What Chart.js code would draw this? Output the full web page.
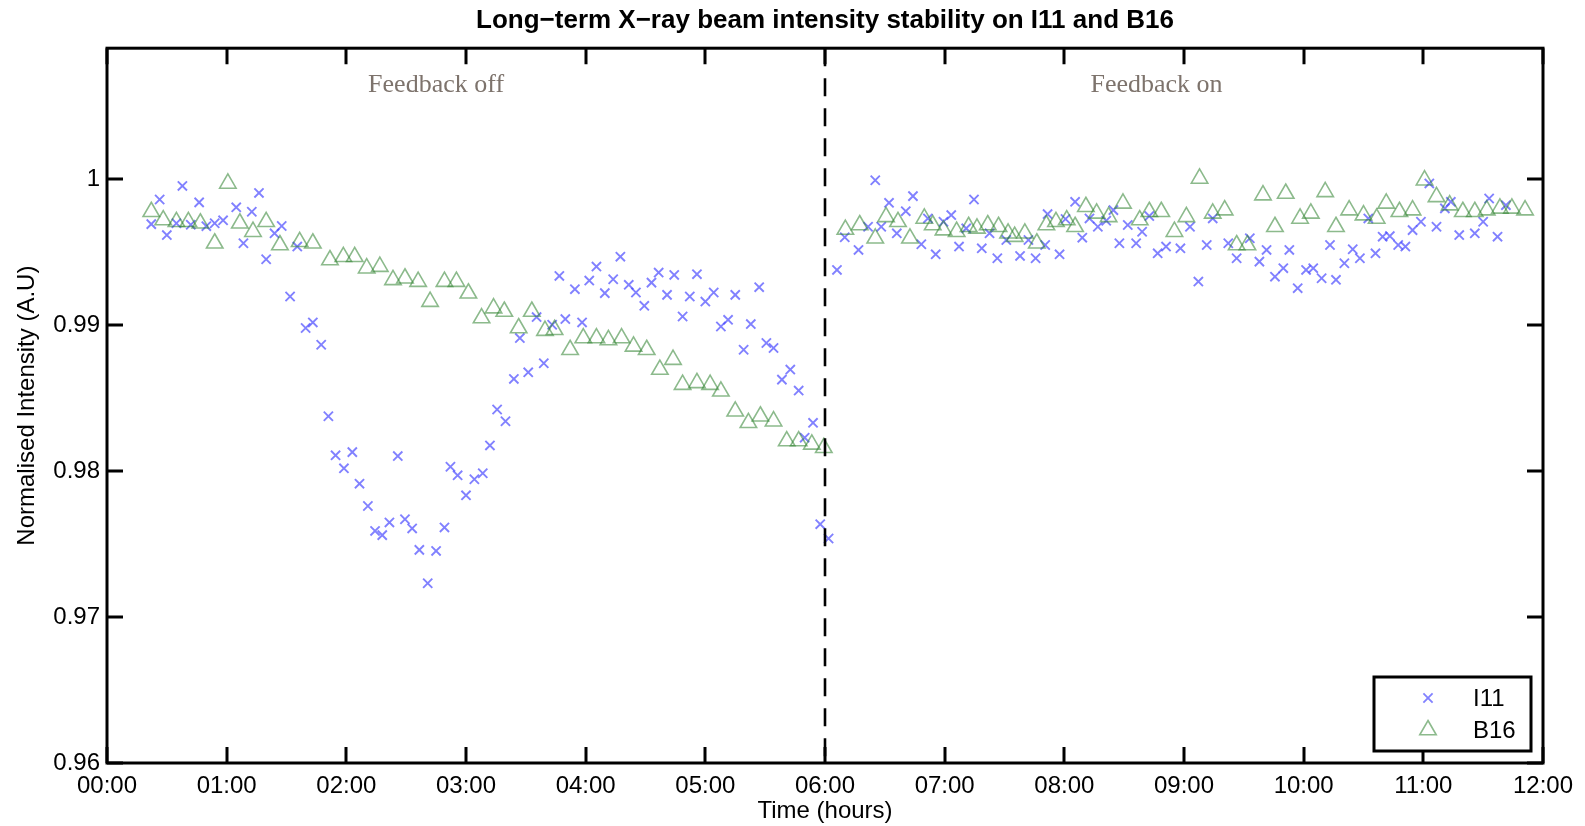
<!DOCTYPE html>
<html>
<head>
<meta charset="utf-8">
<script src="https://cdn.jsdelivr.net/npm/chart.js@4/dist/chart.umd.min.js"></script>
<style>
  html, body { margin: 0; padding: 0; background: #fff; }
  #wrap { width: 1585px; height: 826px; }
</style>
</head>
<body>
<div id="wrap"><canvas id="c" width="1585" height="826"></canvas></div>
<script>
// ---------------- data ----------------
const chartTitle = 'Long\u2212term X\u2212ray beam intensity stability on I11 and B16';
const xAxisTitle = 'Time (hours)';
const yAxisTitle = 'Normalised Intensity (A.U)';

const xTickValues = [0,1,2,3,4,5,6,7,8,9,10,11,12];
const xTickLabels = ['00:00','01:00','02:00','03:00','04:00','05:00','06:00','07:00','08:00','09:00','10:00','11:00','12:00'];
const yTickValues = [0.96, 0.97, 0.98, 0.99, 1.0];
const yTickLabels = ['0.96', '0.97', '0.98', '0.99', '1'];

const seriesNames = ['I11', 'B16'];
const annotationTexts = ['Feedback off', 'Feedback on'];
const annotationHours = [2.75, 8.77];
const annotationValues = [1.00645, 1.00645];
const feedbackSwitchHour = 6;

// I11 (hours, normalised intensity)
const i11Hours = [
  0.37,0.44,0.50,0.58,0.63,0.70,0.77,0.83,0.90,0.97,1.08,1.14,1.21,1.27,1.33,1.40,1.46,1.53,1.59,1.66,
  1.72,1.79,1.85,1.91,1.98,2.05,2.11,2.18,2.24,2.30,2.36,2.43,2.49,2.55,2.61,2.68,2.75,2.82,2.87,2.93,
  3.00,3.07,3.14,3.20,3.26,3.33,3.40,3.45,3.52,3.59,3.65,3.72,3.78,3.83,3.91,3.97,4.03,4.09,4.16,4.23,
  4.29,4.36,4.42,4.49,4.55,4.61,4.68,4.74,4.81,4.87,4.93,5.00,5.07,5.13,5.19,5.25,5.32,5.38,5.45,5.51,
  5.57,5.64,5.71,5.78,5.83,5.90,5.96,6.03,
  6.10,6.165,6.28,6.36,6.42,6.47,6.535,6.60,6.675,6.735,6.805,6.86,6.925,6.99,7.055,7.12,7.18,7.245,7.31,7.375,
  7.44,7.515,7.63,7.70,7.76,7.84,7.86,7.96,8.01,8.09,8.15,8.21,8.28,8.35,8.41,8.46,8.53,8.60,8.65,8.71,
  8.78,8.85,8.97,9.05,9.12,9.19,9.24,9.37,9.44,9.55,9.63,9.69,9.76,9.83,9.88,9.95,10.02,10.08,10.15,10.22,
  10.27,10.34,10.41,10.47,10.54,10.60,10.66,10.72,10.79,10.85,10.91,10.98,11.05,11.11,11.18,11.23,11.30,11.43,11.50,11.55,
  11.62,11.69
];
const i11Values = [
  0.99694,0.99863,0.99619,0.99700,0.99956,0.99690,0.99843,0.99680,0.99700,0.99720,0.99809,0.99563,0.99779,0.99908,0.99453,0.99631,0.99681,0.99198,0.99540,0.98982,
  0.99020,0.98867,0.98377,0.98109,0.98020,0.98131,0.97915,0.97762,0.97591,0.97562,0.97649,0.98104,0.97671,0.97608,0.97461,0.97232,0.97454,0.97615,0.98031,0.97972,
  0.97835,0.97945,0.97986,0.98177,0.98423,0.98343,0.98633,0.98913,0.98678,0.99057,0.98740,0.99004,0.99339,0.99043,0.99248,0.99020,0.99307,0.99403,0.99221,0.99316,
  0.99471,0.99278,0.99225,0.99134,0.99293,0.99362,0.99209,0.99346,0.99061,0.99198,0.99351,0.99163,0.99225,0.98992,0.99038,0.99209,0.98833,0.99009,0.99262,0.98879,
  0.98845,0.98628,0.98697,0.98553,0.98230,0.98332,0.97637,0.97539,
  0.99380,0.99604,0.99517,0.99676,0.99995,0.99676,0.99840,0.99631,0.99783,0.99886,0.99556,0.99733,0.99487,0.99710,0.99756,0.99540,0.99665,0.99863,0.99528,0.99631,
  0.99460,0.99585,0.99476,0.99585,0.99460,0.99551,0.99763,0.99487,0.99729,0.99847,0.99601,0.99733,0.99676,0.99717,0.99790,0.99563,0.99688,0.99563,0.99642,0.99749,
  0.99494,0.99540,0.99528,0.99676,0.99300,0.99551,0.99733,0.99563,0.99460,0.99597,0.99437,0.99517,0.99334,0.99392,0.99517,0.99255,0.99380,0.99392,0.99323,0.99551,
  0.99312,0.99426,0.99522,0.99460,0.99733,0.99494,0.99608,0.99612,0.99551,0.99540,0.99653,0.99710,0.99973,0.99676,0.99802,0.99847,0.99619,0.99631,0.99710,0.99870,
  0.99608,0.99824
];

// B16 (hours, normalised intensity)
const b16Hours = [
  0.37,0.47,0.58,0.68,0.78,0.90,1.01,1.11,1.22,1.33,1.445,1.61,1.72,1.863,1.975,2.07,2.17,2.28,2.39,2.49,
  2.60,2.70,2.82,2.92,3.02,3.13,3.23,3.32,3.44,3.55,3.66,3.74,3.87,3.98,4.09,4.19,4.30,4.40,4.51,4.62,
  4.73,4.81,4.93,5.04,5.13,5.25,5.36,5.46,5.57,5.68,5.78,5.89,5.99,
  6.17,6.29,6.42,6.51,6.61,6.71,6.83,6.90,6.99,7.10,7.20,7.27,7.36,7.45,7.53,7.585,7.67,7.77,7.85,7.93,
  8.02,8.09,8.18,8.27,8.37,8.49,8.63,8.71,8.81,8.92,9.02,9.13,9.24,9.34,9.44,9.53,9.66,9.76,9.85,9.97,
  10.06,10.18,10.27,10.38,10.50,10.61,10.69,10.80,10.91,11.01,11.11,11.22,11.33,11.43,11.53,11.64,11.74,11.85
];
const b16Values = [
  0.99779,0.99722,0.99710,0.99710,0.99700,0.99563,0.99973,0.99700,0.99642,0.99710,0.99551,0.99573,0.99563,0.99448,0.99470,0.99470,0.99392,0.99403,0.99312,0.99323,
  0.99300,0.99163,0.99300,0.99300,0.99220,0.99050,0.99118,0.99095,0.98982,0.99095,0.98964,0.98970,0.98833,0.98913,0.98913,0.98900,0.98913,0.98856,0.98833,0.98697,
  0.98765,0.98594,0.98606,0.98594,0.98548,0.98411,0.98332,0.98377,0.98343,0.98207,0.98207,0.98184,0.98161,
  0.99657,0.99688,0.99597,0.99744,0.99710,0.99597,0.99733,0.99688,0.99653,0.99642,0.99676,0.99665,0.99688,0.99676,0.99631,0.99608,0.99631,0.99563,0.99688,0.99710,
  0.99722,0.99676,0.99813,0.99768,0.99744,0.99836,0.99722,0.99779,0.99779,0.99642,0.99744,1.00007,0.99768,0.99790,0.99551,0.99551,0.99893,0.99676,0.99904,0.99733,
  0.99768,0.99915,0.99676,0.99790,0.99756,0.99733,0.99836,0.99779,0.99790,0.99995,0.99881,0.99824,0.99779,0.99779,0.99790,0.99802,0.99802,0.99790
];

// ---------------- styling ----------------
const SANS = '"Liberation Sans", Arial, Helvetica, sans-serif';
const SERIF = '"Liberation Serif", "Times New Roman", serif';
const i11Color = 'rgba(70,70,255,0.68)';
const b16Color = 'rgba(45,130,45,0.55)';

const toPoints = (xs, ys) => xs.map((x, i) => ({ x: x, y: ys[i] }));

const framePlugin = {
  id: 'frame',
  afterDatasetsDraw(chart) {
    const { ctx, chartArea: a, scales } = chart;
    const xs = scales.x, ys = scales.y;
    ctx.save();
    // dashed switch line
    const sx = xs.getPixelForValue(feedbackSwitchHour);
    ctx.strokeStyle = '#000';
    ctx.lineWidth = 2.6;
    ctx.setLineDash([18, 12]);
    ctx.beginPath();
    ctx.moveTo(sx, a.top);
    ctx.lineTo(sx, a.bottom);
    ctx.stroke();
    ctx.setLineDash([]);
    // annotations
    ctx.fillStyle = '#7d736c';
    ctx.font = '26px ' + SERIF;
    ctx.textAlign = 'center';
    ctx.textBaseline = 'middle';
    annotationTexts.forEach((t, i) => {
      ctx.fillText(t, xs.getPixelForValue(annotationHours[i]), ys.getPixelForValue(annotationValues[i]));
    });
    // frame
    ctx.lineWidth = 3;
    ctx.strokeStyle = '#000';
    ctx.strokeRect(a.left, a.top, a.right - a.left, a.bottom - a.top);
    // inward ticks
    const tl = 16;
    ctx.beginPath();
    xTickValues.forEach(v => {
      const px = Math.round(xs.getPixelForValue(v));
      ctx.moveTo(px, a.bottom); ctx.lineTo(px, a.bottom - tl);
      ctx.moveTo(px, a.top); ctx.lineTo(px, a.top + tl);
    });
    yTickValues.forEach(v => {
      const py = Math.round(ys.getPixelForValue(v));
      ctx.moveTo(a.left, py); ctx.lineTo(a.left + tl, py);
      ctx.moveTo(a.right, py); ctx.lineTo(a.right - tl, py);
    });
    ctx.stroke();
    ctx.restore();
  },
  afterDraw(chart) {
    // legend box inside chart area, bottom-right
    const { ctx } = chart;
    const bx = 1374, by = 677, bw = 157, bh = 74;
    ctx.save();
    ctx.fillStyle = '#fff';
    ctx.fillRect(bx, by, bw, bh);
    ctx.lineWidth = 3;
    ctx.strokeStyle = '#000';
    ctx.strokeRect(bx, by, bw, bh);
    const mx = 1428;
    const rows = [698, 730];
    // I11 marker (rotated cross)
    ctx.strokeStyle = i11Color;
    ctx.lineWidth = 1.8;
    const r = 6.5 * Math.SQRT1_2;
    ctx.beginPath();
    ctx.moveTo(mx - r, rows[0] - r); ctx.lineTo(mx + r, rows[0] + r);
    ctx.moveTo(mx - r, rows[0] + r); ctx.lineTo(mx + r, rows[0] - r);
    ctx.stroke();
    // B16 marker (triangle)
    ctx.strokeStyle = b16Color;
    ctx.lineWidth = 1.6;
    const tr = 9.5;
    ctx.beginPath();
    for (let k = 0; k < 3; k++) {
      const ang = k * 2 * Math.PI / 3;
      const px = mx + Math.sin(ang) * tr, py = rows[1] - Math.cos(ang) * tr;
      if (k === 0) ctx.moveTo(px, py); else ctx.lineTo(px, py);
    }
    ctx.closePath();
    ctx.stroke();
    ctx.fillStyle = '#000';
    ctx.font = '24px ' + SANS;
    ctx.textAlign = 'left';
    ctx.textBaseline = 'middle';
    chart.data.datasets.forEach((ds, i) => ctx.fillText(ds.label, 1473, rows[i] + 1));
    ctx.restore();
  }
};

new Chart(document.getElementById('c'), {
  type: 'scatter',
  data: {
    datasets: [
      {
        label: seriesNames[0],
        data: toPoints(i11Hours, i11Values),
        pointStyle: 'crossRot',
        pointRadius: 6.5,
        pointHoverRadius: 6.5,
        borderColor: i11Color,
        backgroundColor: i11Color,
        borderWidth: 1.9,
        order: 1
      },
      {
        label: seriesNames[1],
        data: toPoints(b16Hours, b16Values),
        pointStyle: 'triangle',
        pointRadius: 9.5,
        pointHoverRadius: 9.5,
        borderColor: b16Color,
        backgroundColor: 'rgba(0,0,0,0)',
        borderWidth: 1.6,
        order: 0
      }
    ]
  },
  options: {
    responsive: false,
    animation: false,
    devicePixelRatio: 1,
    layout: { padding: { left: 0, right: 42, top: 0, bottom: 0 } },
    plugins: {
      legend: { display: false },
      tooltip: { enabled: false },
      title: {
        display: true,
        fullSize: false,
        text: chartTitle,
        color: '#000',
        font: { family: SANS, size: 26, weight: 'bold' },
        padding: { top: 5, bottom: 12 }
      }
    },
    scales: {
      x: {
        type: 'linear',
        min: 0,
        max: 12,
        grid: { display: false, drawTicks: false },
        border: { display: false },
        afterBuildTicks: s => { s.ticks = xTickValues.map(v => ({ value: v })); },
        afterFit: s => { s.height = 63; s.paddingLeft = 0; s.paddingRight = 0; },
        ticks: {
          autoSkip: false,
          maxRotation: 0,
          padding: 9,
          color: '#000',
          font: { family: SANS, size: 24 },
          callback: (v) => xTickLabels[xTickValues.indexOf(v)]
        },
        title: {
          display: true,
          text: xAxisTitle,
          color: '#000',
          font: { family: SANS, size: 24 },
          padding: { top: 0, bottom: 0 }
        }
      },
      y: {
        type: 'linear',
        min: 0.96,
        max: 1.009,
        grid: { display: false, drawTicks: false },
        border: { display: false },
        afterBuildTicks: s => { s.ticks = yTickValues.map(v => ({ value: v })); },
        afterFit: s => { s.width = 107; s.paddingTop = 0; s.paddingBottom = 0; },
        ticks: {
          autoSkip: false,
          padding: 7,
          color: '#000',
          font: { family: SANS, size: 24 },
          callback: (v) => {
            const i = yTickValues.findIndex(t => Math.abs(t - v) < 1e-9);
            return i >= 0 ? yTickLabels[i] : '';
          }
        },
        title: {
          display: true,
          text: yAxisTitle,
          color: '#000',
          font: { family: SANS, size: 24 },
          padding: { top: 13, bottom: 0 }
        }
      }
    }
  },
  plugins: [framePlugin]
});
</script>
</body>
</html>
